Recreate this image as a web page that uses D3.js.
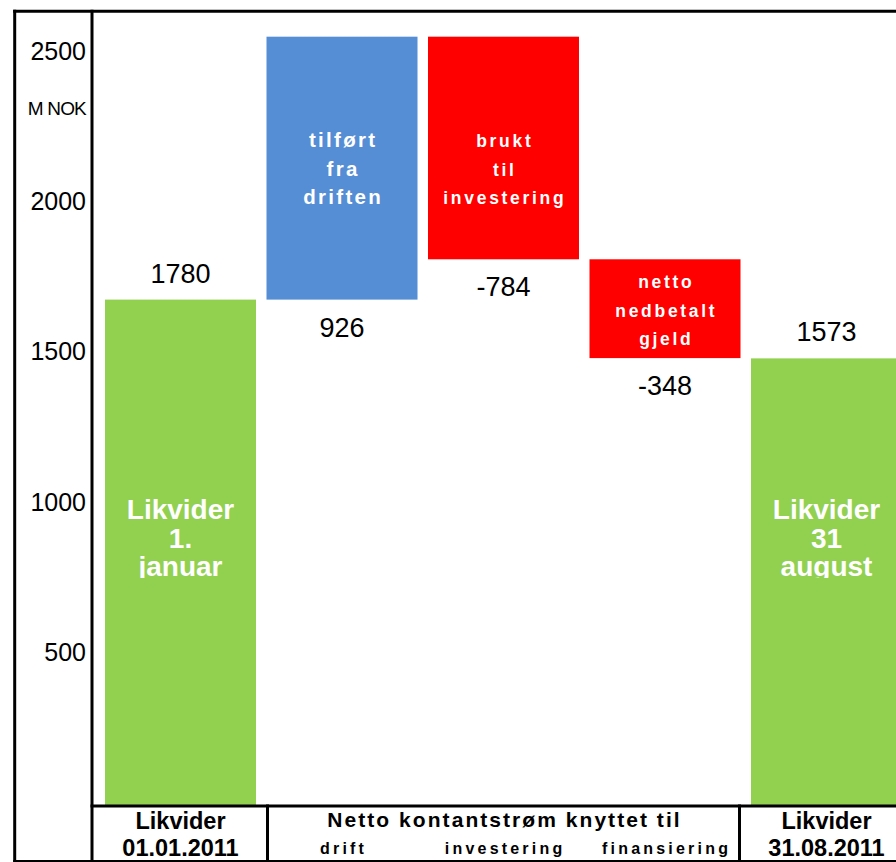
<!DOCTYPE html>
<html>
<head>
<meta charset="utf-8">
<script src="https://cdn.jsdelivr.net/npm/d3@7/dist/d3.min.js"></script>
<style>
  html, body { margin: 0; padding: 0; background: #fff; }
  svg { display: block; font-family: "Liberation Sans", Arial, sans-serif; }
</style>
</head>
<body>
<div id="chart"></div>
<script>
// Cash-flow waterfall, MNOK
const categories = ["start", "drift", "investering", "finansiering", "slutt"];
const stepValues = [1780, 926, -784, -348, 1573];
const stepKinds  = ["total", "delta", "delta", "delta", "total"];
const barLabels  = [
  ["Likvider", "1.", "januar"],
  ["tilført", "fra", "driften"],
  ["brukt", "til", "investering"],
  ["netto", "nedbetalt", "gjeld"],
  ["Likvider", "31", "august"]
];
const tickValues   = [500, 1000, 1500, 2000, 2500];
const unitLabel    = "M NOK";
const periodStart  = ["Likvider", "01.01.2011"];
const periodEnd    = ["Likvider", "31.08.2011"];
const flowHeader   = "Netto kontantstrøm knyttet til";
const flowGroups   = ["drift", "investering", "finansiering"];

const colors = { total: "#92d050", inflow: "#558ed5", outflow: "#ff0000" };

const W = 896, H = 862;
const frameLeft = 14.7, frameTop = 11.3, frameBottom = 861.5;
const axisX = 92, baseY = 806;

// running totals for the floating bars
let running = 0;
const bars = categories.map((c, i) => {
  const v = stepValues[i];
  let from, to;
  if (stepKinds[i] === "total") { from = 0; to = v; running = v; }
  else { from = running; to = running + v; running = to; }
  const kind = stepKinds[i] === "total" ? "total" : (v >= 0 ? "inflow" : "outflow");
  return { key: c, value: v, lo: Math.min(from, to), hi: Math.max(from, to), kind, lines: barLabels[i] };
});

const x = d3.scaleBand().domain(categories)
  .range([99.75, 907.25]).paddingInner(0.065).paddingOuter(0.0325);
const y = d3.scaleLinear().domain([0, 2800]).range([805, 10]);
// tick-label placement scale for the value axis
const yTick = d3.scaleLinear().domain([0, 2500]).range([803, 51]);

const svg = d3.select("#chart").append("svg")
  .attr("width", W).attr("height", H);

// bars
svg.append("g").selectAll("rect").data(bars).join("rect")
  .attr("x", d => x(d.key))
  .attr("width", x.bandwidth())
  .attr("y", d => y(d.hi))
  .attr("height", d => y(d.lo) - y(d.hi))
  .attr("fill", d => colors[d.kind]);

// value labels (plain hyphen for negatives)
svg.append("g").selectAll("text").data(bars).join("text")
  .attr("x", d => x(d.key) + x.bandwidth() / 2)
  .attr("y", d => d.kind === "total" ? y(d.hi) - 17 : y(d.lo) + 37)
  .attr("text-anchor", "middle")
  .attr("font-size", 27)
  .attr("fill", "#000")
  .text(d => String(d.value));

// clip for the labels inside the start/end bars
const defs = svg.append("defs");
defs.append("clipPath").attr("id", "totalClip")
  .append("rect").attr("x", 0).attr("y", 0).attr("width", W + 20).attr("height", y(0) - 227);

// labels inside bars
bars.forEach(d => {
  const cx = x(d.key) + x.bandwidth() / 2;
  const top = y(d.hi), h = y(d.lo) - y(d.hi);
  let g, firstBase, lh, size, ls;
  if (d.kind === "total") {
    g = svg.append("g").attr("clip-path", "url(#totalClip)");
    firstBase = y(0) - 286; lh = 28.5; size = 28; ls = 0;
  } else {
    g = svg.append("g");
    const mid = h > 200 ? top + 139 : top + h / 2 + 8;
    lh = 28.5; firstBase = mid - lh;
    size = d.kind === "inflow" ? 20.5 : 17.5;
    ls = d.kind === "inflow" ? 2.3 : 2.7;
  }
  d.lines.forEach((line, j) => {
    g.append("text")
      .attr("x", cx + ls / 2)
      .attr("y", firstBase + j * lh)
      .attr("text-anchor", "middle")
      .attr("font-size", size)
      .attr("font-weight", "bold")
      .attr("letter-spacing", ls)
      .attr("fill", "#fff")
      .text(line);
  });
});

// value axis labels
const axis = svg.append("g").attr("transform", `translate(${axisX},0)`)
  .call(d3.axisLeft(yTick).tickValues(tickValues).tickFormat(d3.format("d"))
    .tickSize(0).tickPadding(6));
axis.select(".domain").remove();
axis.selectAll("text")
  .attr("font-size", 25)
  .attr("font-family", "Liberation Sans, Arial, sans-serif")
  .attr("fill", "#000");

svg.append("text")
  .attr("x", axisX - 6).attr("y", 115)
  .attr("text-anchor", "end")
  .attr("font-size", 19)
  .attr("letter-spacing", -0.8)
  .text(unitLabel);

// frame and table lines
const lines = svg.append("g").attr("stroke", "#000").attr("stroke-width", 3)
  .attr("stroke-linecap", "square");
const divLeft = x("drift") + 1;
const divRight = x("finansiering") + x.bandwidth() - 1;
[
  [frameLeft, frameTop, W + 5, frameTop],
  [frameLeft, frameTop, frameLeft, frameBottom],
  [frameLeft, frameBottom, W + 5, frameBottom],
  [axisX, frameTop, axisX, frameBottom],
  [axisX, baseY, W + 5, baseY],
  [divLeft, baseY, divLeft, frameBottom],
  [divRight, baseY, divRight, frameBottom]
].forEach(([x1, y1, x2, y2]) => {
  lines.append("line").attr("x1", x1).attr("y1", y1).attr("x2", x2).attr("y2", y2);
});

// table under the chart
const table = svg.append("g").attr("fill", "#000").attr("font-weight", "bold");
const c0 = x("start") + x.bandwidth() / 2;
const c4 = x("slutt") + x.bandwidth() / 2;
[[periodStart, c0], [periodEnd, c4]].forEach(([txt, cx]) => {
  txt.forEach((t, j) => {
    table.append("text")
      .attr("x", cx).attr("y", 828.5 + j * 27.5)
      .attr("text-anchor", "middle")
      .attr("font-size", 23.5)
      .text(t);
  });
});
table.append("text")
  .attr("x", (divLeft + divRight) / 2 + 1).attr("y", 826.7)
  .attr("text-anchor", "middle")
  .attr("font-size", 21)
  .attr("letter-spacing", 2.05)
  .text(flowHeader);
flowGroups.forEach((t, i) => {
  const key = categories[i + 1];
  table.append("text")
    .attr("x", x(key) + x.bandwidth() / 2 + 1.6).attr("y", 854)
    .attr("text-anchor", "middle")
    .attr("font-size", 16)
    .attr("letter-spacing", 3.2)
    .text(t);
});
</script>
</body>
</html>
